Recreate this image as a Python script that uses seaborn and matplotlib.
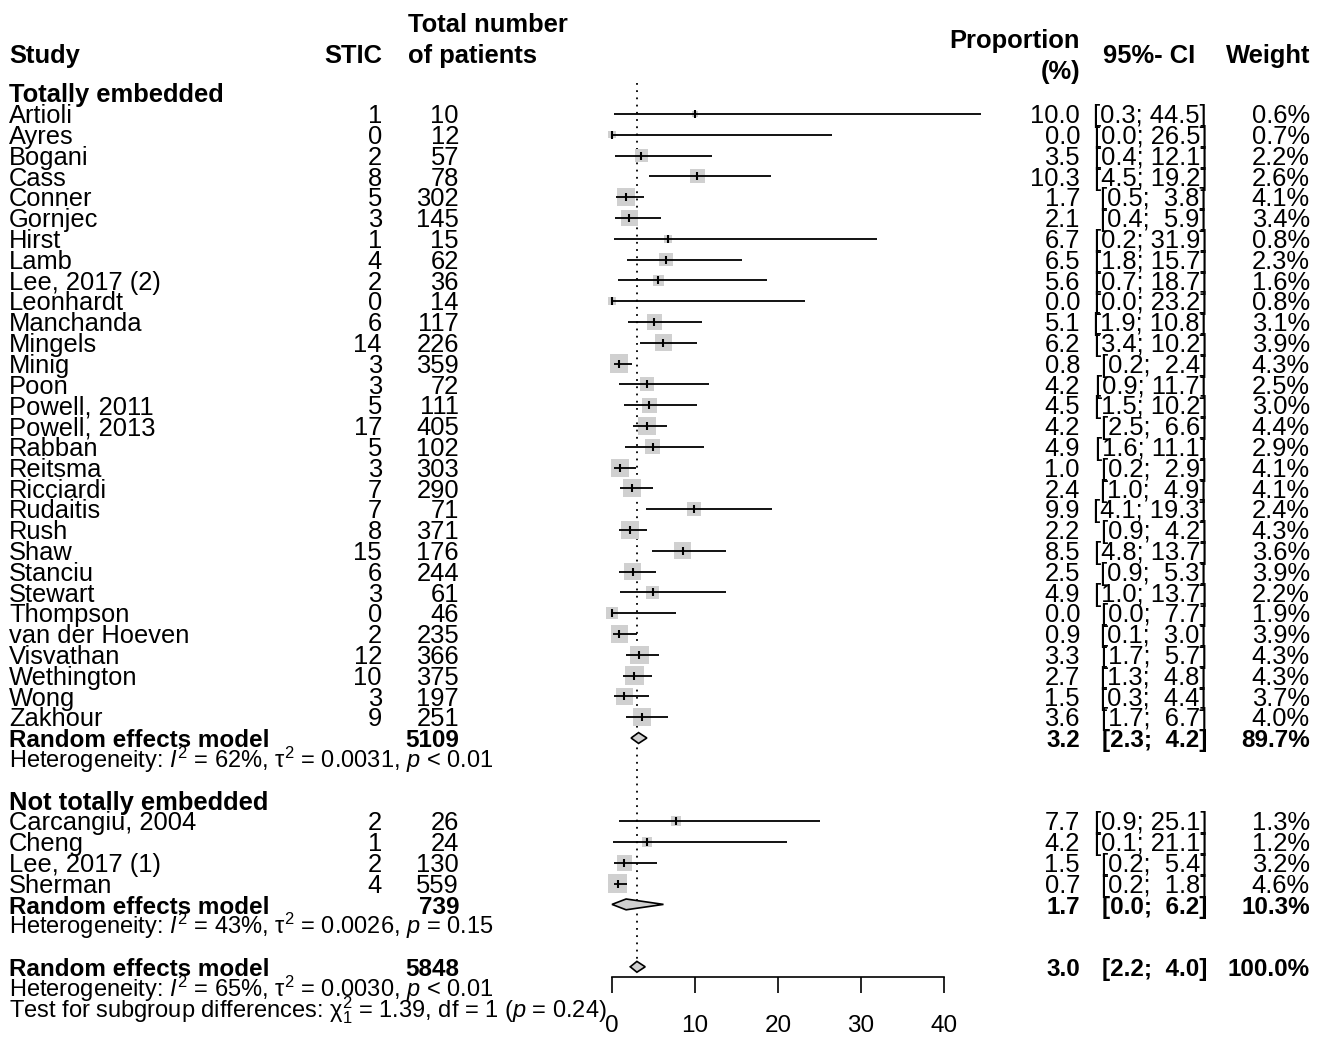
import numpy as np
import pandas as pd
import matplotlib
matplotlib.use("Agg")
import matplotlib.pyplot as plt
import matplotlib.transforms as mtransforms
import seaborn as sns

# data
names1 = ["Artioli", "Ayres", "Bogani", "Cass", "Conner", "Gornjec", "Hirst", "Lamb",
          "Lee, 2017 (2)", "Leonhardt", "Manchanda", "Mingels", "Minig", "Poon",
          "Powell, 2011", "Powell, 2013", "Rabban", "Reitsma", "Ricciardi", "Rudaitis",
          "Rush", "Shaw", "Stanciu", "Stewart", "Thompson", "van der Hoeven", "Visvathan",
          "Wethington", "Wong", "Zakhour"]
stic1 = [1, 0, 2, 8, 5, 3, 1, 4, 2, 0, 6, 14, 3, 3, 5, 17, 5, 3, 7, 7, 8, 15, 6, 3, 0, 2, 12, 10, 3, 9]
total1 = [10, 12, 57, 78, 302, 145, 15, 62, 36, 14, 117, 226, 359, 72, 111, 405, 102, 303,
          290, 71, 371, 176, 244, 61, 46, 235, 366, 375, 197, 251]
prop1 = [10.0, 0.0, 3.5, 10.3, 1.7, 2.1, 6.7, 6.5, 5.6, 0.0, 5.1, 6.2, 0.8, 4.2, 4.5, 4.2,
         4.9, 1.0, 2.4, 9.9, 2.2, 8.5, 2.5, 4.9, 0.0, 0.9, 3.3, 2.7, 1.5, 3.6]
lo1 = [0.3, 0.0, 0.4, 4.5, 0.5, 0.4, 0.2, 1.8, 0.7, 0.0, 1.9, 3.4, 0.2, 0.9, 1.5, 2.5,
       1.6, 0.2, 1.0, 4.1, 0.9, 4.8, 0.9, 1.0, 0.0, 0.1, 1.7, 1.3, 0.3, 1.7]
hi1 = [44.5, 26.5, 12.1, 19.2, 3.8, 5.9, 31.9, 15.7, 18.7, 23.2, 10.8, 10.2, 2.4, 11.7,
       10.2, 6.6, 11.1, 2.9, 4.9, 19.3, 4.2, 13.7, 5.3, 13.7, 7.7, 3.0, 5.7, 4.8, 4.4, 6.7]
w1 = [0.6, 0.7, 2.2, 2.6, 4.1, 3.4, 0.8, 2.3, 1.6, 0.8, 3.1, 3.9, 4.3, 2.5, 3.0, 4.4,
      2.9, 4.1, 4.1, 2.4, 4.3, 3.6, 3.9, 2.2, 1.9, 3.9, 4.3, 4.3, 3.7, 4.0]
rem1 = dict(total=5109, est=3.2, lo=2.3, hi=4.2, w=89.7)
het1 = r"Heterogeneity: $I^2$ = 62%, τ$^2$ = 0.0031, $p$ < 0.01"

names2 = ["Carcangiu, 2004", "Cheng", "Lee, 2017 (1)", "Sherman"]
stic2 = [2, 1, 2, 4]
total2 = [26, 24, 130, 559]
prop2 = [7.7, 4.2, 1.5, 0.7]
lo2 = [0.9, 0.1, 0.2, 0.2]
hi2 = [25.1, 21.1, 5.4, 1.8]
w2 = [1.3, 1.2, 3.2, 4.6]
rem2 = dict(total=739, est=1.7, lo=0.0, hi=6.2, w=10.3)
het2 = r"Heterogeneity: $I^2$ = 43%, τ$^2$ = 0.0026, $p$ = 0.15"

remall = dict(total=5848, est=3.0, lo=2.2, hi=4.0, w=100.0)
hetall = r"Heterogeneity: $I^2$ = 65%, τ$^2$ = 0.0030, $p$ < 0.01"
testsub = r"Test for subgroup differences: χ$^2_1$ = 1.39, df = 1 ($p$ = 0.24)"

xticks = [0, 10, 20, 30, 40]

# rows (top to bottom)
rows1 = np.arange(len(names1))
r_rem1 = len(names1)
r_het1 = r_rem1 + 1
r_head2 = r_rem1 + 3
rows2 = r_head2 + 1 + np.arange(len(names2))
r_rem2 = rows2[-1] + 1
r_het2 = r_rem2 + 1
r_all = r_het2 + 2

df = pd.DataFrame({
    "study": names1 + names2,
    "stic": stic1 + stic2,
    "total": total1 + total2,
    "prop": prop1 + prop2,
    "lo": lo1 + lo2,
    "hi": hi1 + hi2,
    "weight": w1 + w2,
    "row": np.concatenate([rows1, rows2]),
})

sns.set_style("white")
plt.rcParams["font.family"] = ["Liberation Sans", "DejaVu Sans"]
plt.rcParams["mathtext.fontset"] = "custom"
plt.rcParams["mathtext.rm"] = "Liberation Sans"
plt.rcParams["mathtext.it"] = "Liberation Sans:italic"
plt.rcParams["mathtext.bf"] = "Liberation Sans:bold"
plt.rcParams["text.color"] = "black"
plt.rcParams["xtick.color"] = "black"
plt.rcParams["axes.edgecolor"] = "black"

W, H = 1326, 1038
ROW_PX, Y0 = 20.8, 114
FS = 18.4       # row / header text
FS_REM = 17.5   # pooled rows
FS_HET = 17     # heterogeneity lines
BASE = 0.44

fig = plt.figure(figsize=(W / 100, H / 100), dpi=100)
axis_px = 977
ax = fig.add_axes([612 / W, (H - axis_px) / H, 332 / W, axis_px / H])
ax.patch.set_alpha(0)
ax.set_xlim(0, 40)
ax.set_ylim((axis_px - Y0) / ROW_PX, -Y0 / ROW_PX)

# squares sized by weight (area ~ weight)
K = (8.8 * 0.72) ** 2
wmin, wmax = df["weight"].min(), df["weight"].max()
sns.scatterplot(data=df, x="prop", y="row", size="weight", sizes=(K * wmin, K * wmax),
                size_norm=(wmin, wmax), marker="s", color="#d0d0d0", linewidth=0,
                legend=False, ax=ax, clip_on=False, zorder=2)
ax.hlines(df["row"], df["lo"], df["hi"], color="black", lw=1.3, zorder=3, clip_on=False)
ax.plot(df["prop"], df["row"], "|", color="black", ms=5.5, mew=1.5, zorder=4, clip_on=False)

# diamonds
for r, m in [(r_rem1, rem1), (r_rem2, rem2), (r_all, remall)]:
    h = 0.26
    ax.fill([m["lo"], m["est"], m["hi"], m["est"]], [r, r - h, r, r + h],
            facecolor="#d0d0d0", edgecolor="black", lw=1.2, zorder=4, clip_on=False)

ax.plot([remall["est"], remall["est"]], [rows1[0] - 1.5, r_all - 0.26], ls=(0, (1, 3)),
        color="black", lw=1.3, zorder=1, clip_on=False)

for s in ["left", "top", "right"]:
    ax.spines[s].set_visible(False)
ax.spines["bottom"].set_linewidth(1.2)
ax.set_yticks([])
ax.set_xticks(xticks)
ax.tick_params(axis="x", direction="out", length=11.5, width=1.2, labelsize=17.5, pad=15.5,
               bottom=True)
ax.set_xlabel("")
ax.set_ylabel("")

trans = mtransforms.blended_transform_factory(fig.transFigure, ax.transData)


def put(xpx, row, s, ha="left", bold=False, base=True, size=FS):
    ax.text(xpx / W, row + (BASE if base else 0), s, transform=trans, ha=ha, va="baseline",
            fontsize=size, fontweight="bold" if bold else "normal", clip_on=False)


def ci(lo, hi):
    return f"[{lo:.1f}; {hi:4.1f}]"


X_STUDY, X_STIC, X_TOTAL_R, X_TOTAL_L = 9, 382, 459, 408
X_PROP, X_CI, X_W = 1080, 1207, 1310

# header
hb = lambda px: (px - Y0) / ROW_PX
put(X_STUDY, hb(63), "Study", bold=True, base=False)
put(X_STIC, hb(63), "STIC", ha="right", bold=True, base=False)
put(X_TOTAL_L, hb(32), "Total number", bold=True, base=False)
put(X_TOTAL_L, hb(63), "of patients", bold=True, base=False)
put(X_PROP, hb(48), "Proportion", ha="right", bold=True, base=False)
put(X_PROP, hb(79), "(%)", ha="right", bold=True, base=False)
put(1149, hb(63), "95%- CI", ha="center", bold=True, base=False)
put(X_W, hb(63), "Weight", ha="right", bold=True, base=False)

put(X_STUDY, rows1[0] - 1, "Totally embedded", bold=True)
put(X_STUDY, r_head2, "Not totally embedded", bold=True)

for _, d in df.iterrows():
    r = d["row"]
    put(X_STUDY, r, d["study"])
    put(X_STIC, r, f"{d['stic']}", ha="right")
    put(X_TOTAL_R, r, f"{d['total']}", ha="right")
    put(X_PROP, r, f"{d['prop']:.1f}", ha="right")
    put(X_CI, r, ci(d["lo"], d["hi"]), ha="right")
    put(X_W, r, f"{d['weight']:.1f}%", ha="right")

for r, m, het in [(r_rem1, rem1, het1), (r_rem2, rem2, het2), (r_all, remall, hetall)]:
    put(X_STUDY, r, "Random effects model", bold=True, size=FS_REM)
    put(X_TOTAL_R, r, f"{m['total']}", ha="right", bold=True, size=FS_REM)
    put(X_PROP, r, f"{m['est']:.1f}", ha="right", bold=True, size=FS_REM)
    put(X_CI, r, ci(m["lo"], m["hi"]), ha="right", bold=True, size=FS_REM)
    put(X_W, r, f"{m['w']:.1f}%", ha="right", bold=True, size=FS_REM)
    put(X_STUDY, r + 1, het, size=FS_HET)
put(X_STUDY, r_all + 2, testsub, size=FS_HET)

fig.savefig("out.png", dpi=100)
